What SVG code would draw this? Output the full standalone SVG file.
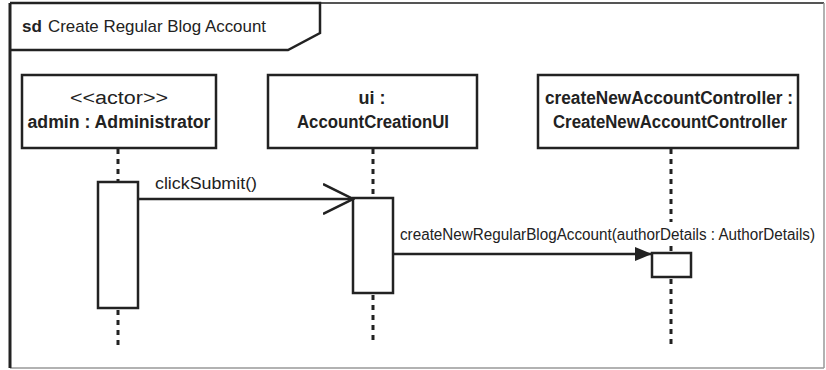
<svg xmlns="http://www.w3.org/2000/svg" width="826" height="370" viewBox="0 0 826 370">
<style>
text{font-family:"Liberation Sans Narrow","Liberation Sans",Arial,sans-serif;fill:#222}
.nt{font-size:18px;font-weight:bold;text-anchor:middle}
.st{font-weight:normal}
.ml{font-size:16px}
.box{fill:#fff;stroke:#222;stroke-width:2.5}
.life{stroke:#222;stroke-width:3;stroke-dasharray:5,5}
.act{fill:#fff;stroke:#222;stroke-width:2.5}
.msg{stroke:#222;stroke-width:2.5;fill:none}
</style>
<defs>
<marker id="open" markerWidth="32" markerHeight="32" refX="30" refY="16" orient="auto" markerUnits="userSpaceOnUse">
<path d="M0,1 L30,16 L0,31" fill="none" stroke="#222" stroke-width="2.5"/>
</marker>
<marker id="filled" markerWidth="18" markerHeight="14" refX="17" refY="7" orient="auto" markerUnits="userSpaceOnUse">
<path d="M0,0 L17,7 L0,14 Z" fill="#222"/>
</marker>
</defs>
<rect width="826" height="370" fill="#fff"/>
<g id="frame">
<path d="M10,3 L824,3" fill="none" stroke="#555" stroke-width="2"/>
<path d="M824,3 L824,368" fill="none" stroke="#999" stroke-width="1.5"/>
<path d="M10,368 L824,368" fill="none" stroke="#999" stroke-width="1.5"/>
<path d="M10,3 L10,368" fill="none" stroke="#222" stroke-width="3"/>
<path d="M10,3 L320,3 L320,33 L288,50 L10,50" fill="none" stroke="#222" stroke-width="2.5"/>
<text x="22" y="32" font-size="17" font-weight="bold">sd</text>
<text x="48" y="32" font-size="17" textLength="218" lengthAdjust="spacingAndGlyphs">Create Regular Blog Account</text>
</g>
<g id="admin">
<rect class="box" x="22" y="75" width="194" height="73"/>
<text class="nt st" x="119" y="104" textLength="98" lengthAdjust="spacingAndGlyphs">&lt;&lt;actor&gt;&gt;</text>
<text class="nt" x="119" y="128" textLength="183" lengthAdjust="spacingAndGlyphs">admin : Administrator</text>
</g>
<g id="ui">
<rect class="box" x="268" y="75" width="209" height="73"/>
<text class="nt" x="372" y="104">ui :</text>
<text class="nt" x="373" y="128" textLength="152" lengthAdjust="spacingAndGlyphs">AccountCreationUI</text>
</g>
<g id="controller">
<rect class="box" x="538" y="75" width="260" height="73"/>
<text class="nt" x="669" y="104" textLength="248" lengthAdjust="spacingAndGlyphs">createNewAccountController :</text>
<text class="nt" x="670" y="128" textLength="234" lengthAdjust="spacingAndGlyphs">CreateNewAccountController</text>
</g>
<g id="lifelines">
<line class="life" x1="118" y1="149" x2="118" y2="182"/>
<line class="life" x1="118" y1="310" x2="118" y2="345"/>
<line class="life" x1="373" y1="149" x2="373" y2="198"/>
<line class="life" x1="373" y1="295" x2="373" y2="345"/>
<line class="life" x1="671" y1="149" x2="671" y2="222"/>
<line class="life" x1="671" y1="246" x2="671" y2="253"/>
<line class="life" x1="671" y1="279" x2="671" y2="345"/>
</g>
<g id="activations">
<rect class="act" x="98" y="182" width="40" height="126"/>
<rect class="act" x="353" y="198" width="40" height="95"/>
<rect class="act" x="652" y="253" width="39" height="24"/>
</g>
<g id="connectors">
<line class="msg" x1="138" y1="199" x2="353" y2="199" marker-end="url(#open)"/>
<text class="ml" x="155" y="189" textLength="102" lengthAdjust="spacingAndGlyphs">clickSubmit()</text>
<line class="msg" x1="393" y1="254" x2="652" y2="254" marker-end="url(#filled)"/>
<text class="ml" x="400" y="240" textLength="415" lengthAdjust="spacingAndGlyphs">createNewRegularBlogAccount(authorDetails : AuthorDetails)</text>
</g>
</svg>
